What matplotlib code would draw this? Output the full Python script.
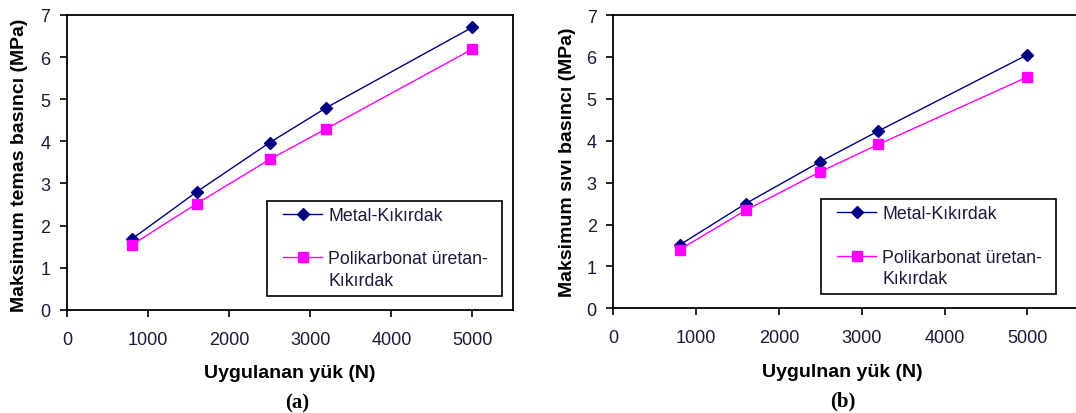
import matplotlib
matplotlib.use("Agg")
import matplotlib.pyplot as plt
from matplotlib.lines import Line2D
from matplotlib.patches import Rectangle

plt.rcParams['font.family'] = ['Liberation Sans', 'DejaVu Sans']

# Applied load (N)
load = [800, 1600, 2500, 3200, 5000]

# (a) maximum contact pressure (MPa)
contact_metal = [1.68, 2.80, 3.97, 4.80, 6.71]
contact_poly = [1.54, 2.52, 3.57, 4.30, 6.19]

# (b) maximum fluid pressure (MPa)
fluid_metal = [1.51, 2.50, 3.50, 4.23, 6.05]
fluid_poly = [1.40, 2.34, 3.26, 3.91, 5.52]

series_labels = ["Metal-Kıkırdak", "Polikarbonat üretan-", "Kıkırdak"]
x_ticks = [0, 1000, 2000, 3000, 4000, 5000]
y_ticks = [0, 1, 2, 3, 4, 5, 6, 7]

METAL_C = "#000080"
POLY_C = "#FF00FF"
TEXT_C = "#1a1a3a"

W, H = 1076, 414
fig = plt.figure(figsize=(W / 100, H / 100), dpi=100)


def fx(px):
    return px / W


def fy(py):
    return 1 - py / H


panels = [
    dict(rect=[fx(67), fy(310.7), 446 / W, 294.7 / H], xmax=5500,
         metal=contact_metal, poly=contact_poly,
         ylabel="Maksimum temas basıncı (MPa)",
         xlabel="Uygulanan yük (N)", tag="(a)",
         ylab_x=20, ylab_y=165, xlab_xy=(290, 374), tag_xy=(297, 403),
         box=(267, 202, 502, 297), rows=(215, 258, 280), hx=(283, 322), tx=328),
    # the right panel runs past the page edge, so its right spine is cut off
    dict(rect=[fx(613.3), fy(309.3), 468 / W, 293.3 / H], xmax=5652,
         metal=fluid_metal, poly=fluid_poly,
         ylabel="Maksimum sıvı basıncı (MPa)",
         xlabel="Uygulnan yük (N)", tag="(b)",
         ylab_x=567, ylab_y=162, xlab_xy=(842, 373), tag_xy=(843, 401),
         box=(821, 200, 1056, 295), rows=(213, 257, 278), hx=(837, 876), tx=882),
]

for p in panels:
    ax = fig.add_axes(p["rect"])
    ax.plot(load, p["metal"], color=METAL_C, lw=1.0, marker="D", ms=6)
    ax.plot(load, p["poly"], color=POLY_C, lw=1.0, marker="s", ms=6.5)
    ax.set_xlim(0, p["xmax"])
    ax.set_ylim(0, 7)
    ax.set_xticks(x_ticks)
    ax.set_yticks(y_ticks)
    ax.tick_params(axis="x", direction="out", length=5, width=1.2, pad=10,
                   labelsize=13, colors="black", labelcolor=TEXT_C)
    ax.tick_params(axis="y", direction="out", length=5, width=1.2, pad=7,
                   labelsize=13, colors="black", labelcolor=TEXT_C)
    for s in ax.spines.values():
        s.set_linewidth(1.3)
        s.set_color("black")

    fig.text(fx(p["ylab_x"]), fy(p["ylab_y"]), p["ylabel"], rotation=90,
             ha="center", va="center", fontsize=14, fontweight="bold")
    fig.text(fx(p["xlab_xy"][0]), fy(p["xlab_xy"][1]), p["xlabel"],
             ha="center", va="center", fontsize=14, fontweight="bold")
    fig.text(fx(p["tag_xy"][0]), fy(p["tag_xy"][1]), p["tag"],
             ha="center", va="center", fontsize=15, fontweight="bold",
             family="Liberation Serif")

    # legend box with the two series
    x0, y0, x1, y1 = p["box"]
    fig.patches.append(Rectangle((fx(x0), fy(y1)), (x1 - x0) / W, (y1 - y0) / H,
                                 transform=fig.transFigure, facecolor="white",
                                 edgecolor="black", lw=1.2, zorder=5))
    r_metal, r_poly, r_poly2 = p["rows"]
    hx0, hx1 = p["hx"]
    hm = (hx0 + hx1) / 2
    for row, color, mk, ms in [(r_metal, METAL_C, "D", 6), (r_poly, POLY_C, "s", 6.5)]:
        fig.lines.append(Line2D([fx(hx0), fx(hx1)], [fy(row), fy(row)],
                                transform=fig.transFigure, color=color, lw=1.0,
                                zorder=6))
        fig.lines.append(Line2D([fx(hm)], [fy(row)], transform=fig.transFigure,
                                color=color, marker=mk, ms=ms, zorder=7))
    for row, label in zip(p["rows"], series_labels):
        fig.text(fx(p["tx"]), fy(row), label, ha="left", va="center_baseline",
                 fontsize=12.8, color=TEXT_C, zorder=8)

fig.savefig("out.png", dpi=100)
